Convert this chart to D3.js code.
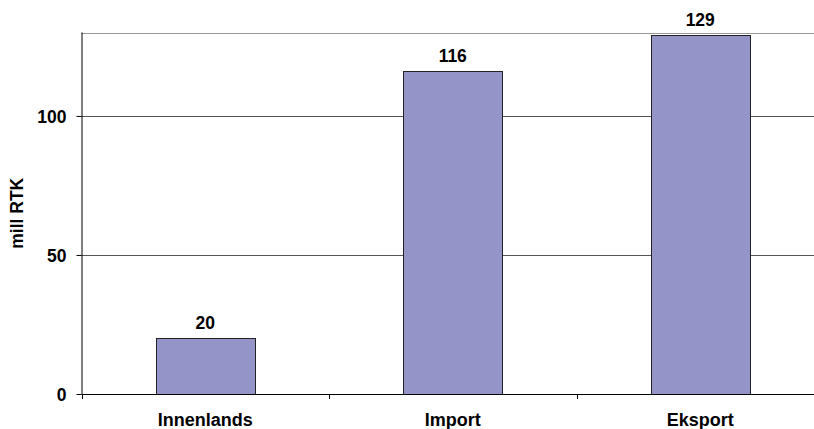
<!DOCTYPE html>
<html>
<head>
<meta charset="utf-8">
<script src="https://cdn.jsdelivr.net/npm/d3@7"></script>
<style>
  html, body { margin: 0; padding: 0; background: #fff; }
  svg { display: block; }
  text { font-family: "Liberation Sans", Arial, sans-serif; font-weight: bold; fill: #000; }
</style>
</head>
<body>
<svg id="chart" width="814" height="429"></svg>
<script>
const categories = ["Innenlands", "Import", "Eksport"];
const values = [20, 116, 129];
const yTicks = [0, 50, 100];
const yMax = 130;
const yLabel = "mill RTK";

(function () {
const svg = d3.select("#chart");
const pL = 81.5, pR = 824, pT = 32.5, pB = 394;

const x = d3.scaleBand().domain(categories).range([pL, pR]).paddingInner(0.6).paddingOuter(0.3);
const y = d3.scaleLinear().domain([0, yMax]).range([pB, pT]);

// gridlines
svg.append("g").selectAll("line").data(yTicks.filter(d => d > 0)).join("line")
  .attr("x1", pL).attr("x2", 814)
  .attr("y1", d => Math.round(y(d)) + 0.5).attr("y2", d => Math.round(y(d)) + 0.5)
  .attr("stroke", "#555").attr("stroke-width", 1);

// top border
svg.append("line").attr("x1", pL).attr("x2", 814)
  .attr("y1", Math.round(y(yMax)) + 0.5).attr("y2", Math.round(y(yMax)) + 0.5)
  .attr("stroke", "#999").attr("stroke-width", 1);

// bars
svg.append("g").selectAll("rect").data(values).join("rect")
  .attr("x", (d, i) => Math.round(x(categories[i])) + 0.5)
  .attr("y", d => Math.round(y(d)) + 0.5)
  .attr("width", Math.round(x.bandwidth()))
  .attr("height", d => Math.round(y(0)) - Math.round(y(d)))
  .attr("fill", "#9494c8")
  .attr("stroke", "#222").attr("stroke-width", 1);

// value labels
svg.append("g").selectAll("text").data(values).join("text")
  .attr("x", (d, i) => x(categories[i]) + x.bandwidth() / 2)
  .attr("y", d => y(d) - 9.5)
  .attr("text-anchor", "middle")
  .attr("font-size", "17.5px")
  .text(d => d);

// y axis
const yAxis = d3.axisLeft(y).tickValues(yTicks).tickSize(5).tickPadding(10).tickFormat(d3.format("d"));
const gy = svg.append("g").attr("transform", `translate(${pL},0)`).call(yAxis);
gy.attr("font-family", null).attr("font-size", null);
gy.select(".domain").attr("stroke", "#000").attr("d", `M0.5,${pT}V${pB}`);
gy.selectAll(".tick line").attr("stroke", "#000");
gy.selectAll(".tick text").attr("font-size", "17.5px").attr("dy", "0.36em");

// x axis
const xAxis = d3.axisBottom(x).tickSize(0).tickPadding(0).tickFormat(d => d);
const gx = svg.append("g").attr("transform", `translate(0,${Math.round(pB) + 0.5})`).call(xAxis);
gx.attr("font-family", null).attr("font-size", null);
gx.select(".domain").attr("stroke", "#000").attr("d", `M${pL},0H814`);
gx.selectAll(".tick text").attr("font-size", "18px").attr("y", 31).attr("dy", 0);

// category separator ticks
const step = x.step();
svg.append("g").selectAll("line").data(d3.range(0, categories.length + 1)).join("line")
  .attr("x1", i => Math.round(pL + i * step) + 0.5).attr("x2", i => Math.round(pL + i * step) + 0.5)
  .attr("y1", Math.round(pB)).attr("y2", Math.round(pB) + 5)
  .attr("stroke", "#000");

// y label
svg.append("text")
  .attr("transform", `translate(23,${(pT + pB) / 2}) rotate(-90)`)
  .attr("text-anchor", "middle")
  .attr("font-size", "17.5px")
  .text(yLabel);
})();
</script>
</body>
</html>
